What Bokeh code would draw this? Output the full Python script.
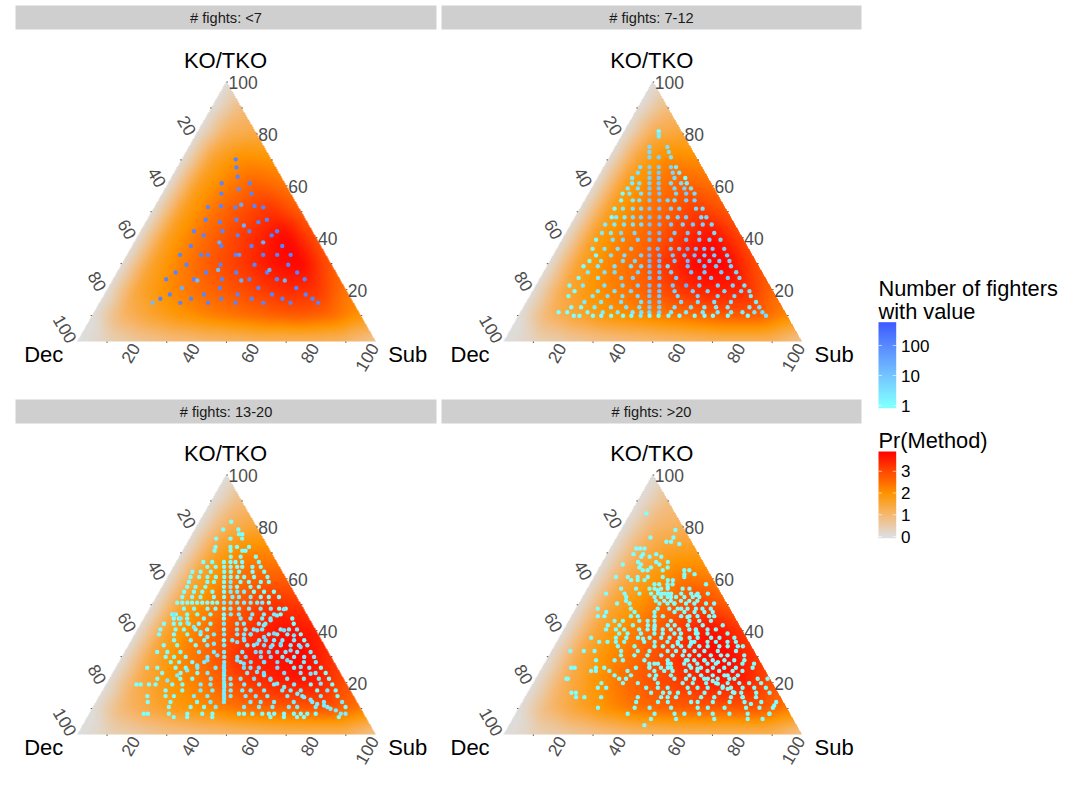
import numpy as np
from bokeh.plotting import figure
from bokeh.models import Range1d, LinearColorMapper, LogColorMapper
from bokeh.core.properties import value
from bokeh.embed import file_html
from bokeh.resources import INLINE

STRIP_TITLES = ["# fights: <7", "# fights: 7-12", "# fights: 13-20", "# fights: >20"]
TICKS = [20, 40, 60, 80, 100]
MINOR = [10, 30, 50, 70, 90]
COUNT_BREAKS = [1, 10, 100]
PR_BREAKS = [0, 1, 2, 3]

# ---- points: % submission, % KO/TKO, number of fighters ----
P1_SUB = [18,19.8,22,17.9,27.3,24.8,19.8,29.9,17.9,22.1,27.2,28.6,33.3,36.5,19.6,24.8,29.9,33.5,37.7,40.1,17.9,21.9,27.4,33.3,36.4,45.7,44.7,19.7,28.5,29.9,40,43.2,50.3,17.8,24.8,27.1,36.4,37.6,45.6,50.3,54.8,21.8,33.2,44.6,55.9,19.7,29.9,33.4,40,50.3,50.6,60.4,17.8,27.1,28.5,36.5,43.2,45.7,54.9,57.8,64.2,24.8,37.5,50.4,63.1,22,33.4,44.7,56.2,67.5,19.6,29.9,40,50.2,60.5,70.6,17.8,27.1,36.4,45.6,54.9,64,73.3]
P1_KO = [70.2,67.1,63.5,61,61,58.7,57,57,51.8,52.2,51.7,52.7,52.2,51.7,46.9,46,46.9,44.7,46,46.9,42.5,40.9,42.5,40.9,42.5,42.5,40.9,36.8,38.2,36.8,36.8,38.2,36.8,33.4,33.4,33.4,33.4,33.4,33.4,33.4,33.4,29.6,29.6,29.6,29.6,26.6,26.6,27.6,26.6,26.6,27.6,26.6,24,24,23.5,24,23.5,24,24,23.5,24,20.6,20.6,20.6,20.6,18.1,18.1,18.1,18.1,18.1,16.5,16.5,16.5,16.5,16.5,16.5,14.9,14.9,14.9,14.9,14.9,14.9,14.9]
P1_N = [130,130,130,130,130,90,130,130,130,130,130,30,130,130,130,130,130,25,130,130,130,130,130,130,130,130,150,130,25,130,130,25,130,130,130,130,130,60,130,130,130,130,130,130,130,130,130,15,130,130,25,130,130,130,15,130,25,130,130,20,130,25,130,130,130,130,130,130,130,130,130,130,130,130,130,130,15,130,130,130,130,130,130]

P2_KO = [81,80,79,75,73,71,67.2,65,63,61,59,57,54.4,51.2,47.9,45.1,41.8,39.2,35.7,33.2,31,29,26.7,24.5,21.6,19.4,17.5,15.2,13.2,11.3,9.9]
P2_SUB = [[11.5],[12],[12.5],[11.4,17.4],[12.4,18.9],[13.4,16.5,20.6],[12.2,15.3,18.4,22.5,24.2],[12.5,16.4,19.5,24.2,26.4],[11.6,17.4,20.5,29.4,25.8],[12.6,15,18.4,21.5,25.6,29,30.9],[12.1,15.5,19.4,22.5,27.8,31.1,33.3],[11.4,13.7,17.6,20.4,23.7,29.3,32.7,35.5],[12.2,16.1,18.3,21.7,25,27.8,30.1,34,36.8],[11.6,14.4,17.7,20.5,23.3,26.6,30.5,33.3,38.9,41.1],[12.3,13.8,16.6,19.4,22.1,25,28.3,31.1,34.4,37.2,42.3,44],[11.5,14.6,17.8,20.8,23.6,26.4,29.7,33.6,37.5,40.9,44.2,47.2],[12.1,15.1,18.5,23,28,31.3,36.4,40.8,44.7,49.7],[11.4,17,20.4,25.4,29.3,32.6,36.5,41.6,46,49.4,53.1],[12,16,20.4,24.9,31,33.8,38.2,41,43.8,46.6,49.4,52.2,56.1],[14.4,19.4,23.9,29.5,32.3,35.6,40.1,44,47.4,50.7,54,58.3],[13.3,17.2,24.5,28.5,33.4,36.7,41.8,46.2,50.1,53.5,56.8,60.2],[12.3,17.1,22.7,28.2,31.6,34.4,37.7,40.5,47.2,52.8,56.7,61.7],[14.9,20.5,23.9,31.7,35.6,38.9,42.8,49.5,54,59.6,64.6],[12.9,19.4,27.2,31.1,36.7,40,45.6,53.4,57.3,62.9,66.8],[11.3,15.8,23,29.1,34.2,38.1,41.4,45.9,50.4,54.8,61,66,69.9],[14.1,21.9,27.5,33,39.2,42.5,47.6,53.7,58.7,64.3,69.9,72.7],[13,21.1,26.1,31.1,36.2,40.1,43.4,49.6,56.3,63,68.6,74.1],[19.5,25.1,31.8,38.5,41.3,44.6,51.9,57.5,63,68.6,77],[16.1,19.4,23.9,29.4,34.5,38.9,42.3,45.6,50.7,56.2,60.7,64.6,68.5,75.8,79.1],[12.8,15.7,22.5,27.6,32.6,37.6,40.5,43.2,46.5,50.5,55.5,61.1,66.1,70.6,74.4,78.4,81.1],[18.6,20.5,25,27.8,31.1,35.1,37.9,41,44,47,50.3,54,59.1,62.4,65.2,70.2,76.9,83]]
P2_N = [[1],[2],[2],[4,3],[4,3],[5,6,3],[3,6,6,5,2],[3,6,8,5,2],[2,6,8,1,4],[2,3,6,8,4,4,2],[2,3,8,10,5,6,3],[1,2,3,8,10,5,8,4],[1,2,3,8,10,5,4,6,6],[1,2,3,4,10,12,6,6,4,3],[1,2,2,4,5,12,14,5,6,7,4,5],[2,2,3,3,4,12,14,8,5,9,6,4],[2,2,4,5,15,14,7,10,6,4],[1,3,4,5,14,15,8,12,8,6,5],[1,2,3,4,15,15,10,8,20,12,10,8,6],[1,3,4,6,18,18,10,15,12,10,8,6],[1,2,4,5,18,16,10,15,12,10,8,6],[1,2,3,3,5,15,15,4,14,12,8,5],[2,3,4,6,14,14,6,12,10,8,5],[1,2,4,6,12,12,8,10,8,7,4],[1,2,3,4,6,12,12,8,25,8,6,5,3],[1,2,3,4,10,10,6,6,5,5,4,3],[1,2,3,3,4,10,10,4,5,4,4,2],[2,2,3,3,8,8,4,3,3,3,2],[1,1,2,2,3,3,6,6,3,3,2,2,2,2,3],[1,1,1,2,2,2,3,5,5,2,2,2,2,2,2,3,4],[1,1,1,1,1,1,1,2,1,1,1,1,1,1,1,1,1,3]]

P3_KO = [82,79,77.2,75.5,72.3,70.8,68.5,66.5,64.6,62.7,60.7,58.8,56.9,55,53,50.8,48.5,46.3,44.7,42.7,40.5,38.6,36.3,34.4,31.8,29.9,27.9,25.7,23.7,21.5,19.3,17,14.8,12.5,10.6,8,6.7]
P3_SUB = [[10.6],[9.4,14.5],[15.6,16.7],[8.8,13.6,17.5],[10.2,15.2,17.4,21.4],[10.6,16,19.9,21],[17.2,20.5,25.6],[9,12,15.9,18.1,19.8,22,27.6],[11.3,14.1,16.9,19.1,21.3,23,26.4,29.2],[7.2,10,13.4,17.9,20.1,22.9,27.4,31.3],[7.6,10.5,13.3,16.1,18.9,21.1,23.3,25.6,28.9,33.4],[8,14.2,16.4,19.8,22,25.3,28.1,32.1,34.8],[8.4,11.2,14.5,20.7,22.9,25.1,29.6,32.4],[8.3,11.6,14.4,17.8,21.7,23.9,26.1,28.4,31.7,35.1,38.4],[8.7,12,14.8,19.3,22.7,25.5,27.7,31.6,35,37.7,41.1],[8.1,9.8,11.5,13.1,14.8,16.5,18.2,19.9,21.5,23.8,26,28.2,30.5,32.7,34.9,36.6,38.8],[11.5,14.9,19.4,22.1,24.9,27.1,30,33.3,37.2,40.6,43.4,45.6],[8.7,9.9,13.7,17.1,21.5,26,28.3,31,35.5,39.4,42.8,45],[10,11.7,14.5,20.1,26.8,32.4,35.7,39.6,42.4,49.7],[7.7,11,13.2,16,19.4,23.3,27.8,32.2,34.5,39.5,41.7,51.2],[7.6,12.7,15.5,19.4,23.3,28.9,33.3,36.1,38.9,41.7,47.9,50.7,53.4],[8.1,13.1,17.6,22,26.5,29.9,34.3,36.6,38.8,44.9,47.7,51.1,55.6],[14.3,19.9,24.4,31,33.8,37.8,42.8,45,47.8,50.6,54.5,57.9],[11.8,16.3,22.5,26.4,32,39.8,42,45.4,48.2,51,54.3,57.1,59.9],[10.9,14.3,18.7,24.9,29.9,33.3,39.4,43.9,48.3,51.1,53.9,57.8,62.3],[14.7,17.5,21.4,28.7,34.3,38.7,41.5,46.6,49.9,53.8,57.7,61.1,64.4],[17.4,20.2,24.6,28.6,35.3,40.8,44.2,48.7,53.1,57.6,62,66],[10.6,14,20.1,23.5,27.4,33.5,36.3,43,48,54.2,59.8,64.9,68.8],[16.6,22.8,28.4,31.8,37.3,45.1,50.7,57.5,63,68,71.4],[16.1,23.8,27.8,34,38.4,40.6,44,48.5,54,59.6,65.2,70.2,73.6],[10.2,11.6,14.4,16.6,22.2,25.6,31.7,35,39.6,41.8,46.3,51.3,56.3,63,68.6,75.8],[21.1,26.7,32.8,36.8,40.7,42.9,46.8,49.6,54.1,60.2,66.4,71.9,78.1],[16.1,22.2,25,31.7,36.2,41.8,44,49,52.4,56.3,63,68,74.2,79.8],[17.4,25,33.9,38.4,42.9,51.8,55.2,59.7,66.3,72.5,76.4,82.5],[25.4,32.7,37.2,41.1,50.6,55.6,60.1,65.6,68.4,74.6,78.5,84.6],[18.3,19.7,26.7,32.9,37.9,41.3,50.2,51.9,54.7,58,60.2,62,65.3,68.6,70.9,73.1,75.9,85.9],[29,33.5,41.9,61.4,65.9,70.3,72.6,84.3]]
P3_N = ["1","11","11","111","1111","1111","111","1111111","11111111","1111111111","1111111111","111121111","11112111","11111222111","11111222111","11111111122222221","111112222211","111111222221","1111122221","111111222221","1111112222222","1111222222221","111122242221","1112222422222","1112222444222","1112224442222","111222444222","1111222444221","11122244221","1112222442221","1111112222222211","1122222222211","11122222222221","111222222222","111222222221","111111111111111112","11111111"]
# dense rays seen in the 13-20 panel
P3X_SUB = [35.8,37.4,38.8,40.2,41.5,42.8,44,45.1,39.3,45.2,51.2,57.2,63,68.8,74.5,79.9,84.3,42.2,48.2,54.2,60.2,65.9,71.5,77.1,82,9.3,12.3,15.4,18.4,21.6,24.8,28.3,31.7,29.3,26.9,24.5,22.1,19.8,35.9,36.9,37.8,39.1,40.1,41.3,42.3,42.8,43.8,46.5,49.2,53.5,45.6,48,50.7,55.3,58,48.6,56.1,61.9,66.5,71.8,75.3]
P3X_KO = [35.6,36.9,38.6,40.2,42.1,44,45.9,48.3,28.6,25.7,22.8,19.6,17,14.4,11.8,9.9,8,27.3,24.1,21.1,18.3,15.7,13.4,11.2,9.3,46.2,44.7,43,41.4,39.5,37.6,35,30.5,28.6,26.6,24.7,22.8,20.8,26.6,24.7,22.8,20.2,18.3,15.7,13.8,35,37.6,38.9,40.2,38.2,31.8,33.7,35,32.4,33.7,27.9,28.6,26,23.4,19.6,17]
P3X_N = [3,3,3,3,2,2,2,2,3,3,3,2,2,2,2,2,2,3,3,3,2,2,2,2,2,2,2,2,2,2,2,2,3,3,2,2,2,2,3,3,2,2,2,2,2,4,4,4,4,3,4,4,4,4,3,4,4,3,3,2,2]

P4_KO = [85.2,78.8,75.9,74.3,73.4,71.7,69.5,68.5,66.5,65.5,64.4,63.3,61.8,60.7,59.5,57.9,56.2,54.3,53,51.5,50.5,48.5,47.2,45.6,43.8,42.1,40.5,38.9,37.3,35.7,34,32.2,30.5,28.6,27.3,25.7,24.5,22.8,21.5,19.8,18,16.1,14.4,12.5,10.3,8,6,3.6]
P4_SUB = [[5.3],[18.2],[11.3,19],[17.4,19],[22.2],[9.9,11.4,8.6],[8.8,12,16.4],[11.9,14.7,18.6],[11.8,17.9,21.8],[7.2,13.3,19.5],[22.8,13.3,17.2],[15,16.6,21.7,28.9,30.6],[29.7,33.1],[7.3,11.3,14.6,18,23,30.2],[13,15.2,17.5,25.3,27],[21.6,23.2,26,27.7,38.9],[11.3,16.3,20.8,22.5,24.7,26.9,31.9,34.2],[7.2,13.4,18.4,22.3,24.6,26.8,29,32.4,35.7,37.9,41.3],[14.6,24.1,26.3,28.5,31.3,34.1,36.9,39.1],[15.3,25.3,28.1,30.3,33.7,36.5,39.2],[12.8,17,27,29.7,32,35.9,38.7,42.6,45.3],[7.3,18.4,27.4,31.3,34.1,37.4,40.2,42.4,45.2],[10.8,20.3,27,33.7,37,40.4,43.7,46.5],[8.8,11,19.9,22.2,27.8,30.6,36.7,39.5,42.2,46.1,47.8],[15.3,18.1,23.6,26.4,28.7,34.2,40.4,43.7,47.6],[13.9,17.8,22.3,27.3,29.6,34,36.3,40.7,45.7,52.4],[14.1,17.4,20.2,25.2,28,30.3,33.1,35.8,38.6,42,44.2,48.1,50.9],[19.3,22.1,26.6,31.1,33.9,37.8,40,45,48.9,55.6],[10.7,19,22.5,26.4,30.3,34.2,37,40.3,43.7,46.4,50.9,53.7,58.7],[14.2,17,19.8,22.6,29.3,32.8,37.1,40.5,45,46.1,50.5,53.3,57.2,60],[21.3,26.9,33.6,36.4,39.7,42.5,45.3,48.6,51.4,55.3,58.1,61.5,63.2],[6.3,10.8,14.4,23.3,28.9,32.8,38.9,41.7,44.5,47.9,51.2,55.7,61.8],[24.1,28.6,33,37.6,41.4,44.8,47,50.3,54.2,57.6,59.8,65.4],[16.7,22.9,25.7,32.9,40.7,46.8,49.6,53,55.8,59.7,63,66.4],[35.2,36.9,42.4,46.9,51.3,54.7,57.5,61.9,66.4,70.3],[9.8,11,18.1,20.9,31.5,36,39.9,42.2,50,53.3,57.3,61.1,65,70.6],[17.1,18.7,23.2,29.3,38.3,41.6,44.4,48.8,52.7,56.1,60,64.5,67.8],[25.8,31.3,37.5,39.7,44.7,50.9,54.8,58.7,62.6,67.1],[10.8,10.3,28,30.3,39.9,46.5,50.4,53.1,56.5,61,64.9,74.4,77.7],[22.9,30.1,35.1,41.8,50.1,53.5,58,61.3,65.2,69.1,72.4,76.4],[22.6,25.4,38.8,42.7,46,52.7,56,59.4,64.4,67.2,71.1,75,78.9],[14.7,16.2,41.4,45.4,47.6,50.4,54.3,59.3,64.3,69.3,71.6,76.6,81.1],[17.1,19.9,25.5,37.8,45.6,47.8,50.6,59,63.4,69,72.9,77.4],[38.2,45.5,48.8,56.6,58.8,63.9,69.5,74.5,80.1,85.1],[26.5,38.8,43.8,51,59.9,63.3,68.9,76.1,80.6,85.1],[37.6,46.6,53.3,56.6,61.6,66.1,71.7,77.8,85.1],[46.4,54.8,67.6,78.8,83.8],[45.4]]
P4X_SUB = [57.7,59.8,62,64.2,66.3,68.7,47.4,49,52.3,53,57.9,63.7,66.6,41.4,43.3,38.1,35.9,45.3,44.4,45.6,41,40.9,27.9,29.6,26.6,25.7,23.9,32,35.3,39,37.7,29.9,28.3,77,85.1,85.1,72.9]
P4X_KO = [21.5,20.6,19.6,18.5,17.6,16.3,28.6,26.6,25.4,28.6,27.9,22.8,21.5,27.3,25.7,27.3,26,35,40.2,38.9,36.9,35,54.3,53,56.9,54.3,55.6,50.5,48.5,45.3,53.7,41.4,36.9,11.8,8,11.2,14.4]

# ---- Pr(Method) read at a 10 % lattice: rows are KO = 0,10,...,100, columns Sub = 0,10,... ----
P1_PR = [[0,.3,.6,.8,.9,1,1.1,1.1,1.1,1,.6],[0,1.1,1.6,2,2.3,2.5,2.7,2.8,2.6,2],[0,1.5,2.1,2.5,2.8,3.1,3.4,3.3,2.4],[0,1.6,2.3,2.8,3.2,3.7,3.9,2.8],[0,1.7,2.4,2.9,3.4,3.9,2.9],[0,1.7,2.4,2.9,3.3,2.7],[0,1.7,2.3,2.7,2.4],[0,1.6,2.1,2],[0,1.2,1.4],[0,.9],[0]]
P2_PR = [[0,.3,.5,.7,.8,.9,1,1.1,1.1,1.1,.6],[0,1.1,1.6,2,2.2,2.4,2.6,2.8,2.8,2.2],[0,1.4,2,2.4,2.8,3.3,3.6,3.5,2.6],[0,1.6,2.2,2.6,3.3,3.9,3.9,2.9],[0,1.7,2.3,2.7,3.3,3.8,3],[0,1.7,2.3,2.7,3.2,2.8],[0,1.7,2.3,2.7,2.5],[0,1.6,2.2,2.1],[0,1.3,1.5],[0,.9],[0]]
P3_PR = [[0,.3,.5,.7,.8,.9,1,1.1,1.1,1.1,.6],[0,1,1.5,1.9,2.2,2.5,2.7,2.8,2.9,2.4],[0,1.3,1.9,2.3,2.8,3.3,3.6,3.6,2.9],[0,1.5,2.2,2.7,3.4,3.7,3.9,3.3],[0,1.6,2.3,2.8,3.4,3.8,3.5],[0,1.6,2.3,2.8,3.3,3.2],[0,1.6,2.3,2.7,2.7],[0,1.5,2.2,2.2],[0,1.2,1.5],[0,.9],[0]]
P4_PR = [[0,.3,.5,.7,.9,1,1.1,1.1,1.1,1.1,.6],[0,1,1.6,2.1,2.5,2.7,2.8,2.8,2.9,2.4],[0,1.2,1.9,2.5,2.9,3.2,3.6,3.6,2.9],[0,1.4,2.1,2.6,3.1,3.7,3.9,3.2],[0,1.4,2.1,2.7,3.2,3.8,3.2],[0,1.4,2,2.6,3.1,2.7],[0,1.3,1.9,2.4,2.3],[0,1.2,1.7,1.8],[0,1,1.2],[0,.8],[0]]

# ---- layout helpers (page pixels) ----
FIG_W, FIG_H = 1072, 784
TRI_W, TRI_H = 298.5, 259.5
PANEL_LEFT = [76.7, 503.0, 76.7, 503.0]
PANEL_BASE = [341.0, 341.0, 734.0, 734.0]
PANEL_STRIP = [(15, 436, 5, 29), (441, 861, 5, 29), (15, 436, 399, 423), (441, 861, 399, 423)]
FONT = value("Liberation Sans")


def yy(v):
    return FIG_H - np.asarray(v, dtype=float)


def lerp_palette(stops, n=256):
    xs = np.array([s[0] for s in stops], dtype=float)
    rgb = np.array([[int(s[1][i:i + 2], 16) for i in (1, 3, 5)] for s in stops], dtype=float)
    t = np.linspace(xs[0], xs[-1], n)
    ch = [np.interp(t, xs, rgb[:, i]) for i in range(3)]
    return ["#%02x%02x%02x" % (int(a), int(b), int(c)) for a, b, c in zip(*ch)]


pr_mapper = LinearColorMapper(palette=lerp_palette([(0, "#DEDEDE"), (1, "#F6B871"), (2, "#FF9500"), (3.95, "#FF0000")]), low=0, high=3.95, nan_color="rgba(0,0,0,0)")
count_mapper = LogColorMapper(palette=lerp_palette([(0, "#80FFFF"), (1, "#75C5FF"), (2, "#5A8CFF"), (2.8, "#3E5CFF")]), low=1, high=630)


def field(table):
    V = np.zeros((12, 12))
    for j, row in enumerate(table):
        V[j, :len(row)] = row
    nx, ny = int(round(TRI_W)), int(round(TRI_H))
    gx, gy = np.meshgrid((np.arange(nx) + .5) / nx * 100, (np.arange(ny) + .5) / ny * 100)
    ko = gy
    sub = gx - ko / 2
    inside = (sub >= 0) & (sub + ko <= 100)
    s = np.clip(sub, 0, 100 - ko)
    a, b = s / 10, ko / 10
    i, j = np.clip(np.floor(a).astype(int), 0, 10), np.clip(np.floor(b).astype(int), 0, 9)
    fa, fb = a - i, b - j
    low = V[j, i] * (1 - fa - fb) + V[j, i + 1] * fa + V[j + 1, i] * fb
    upp = V[j + 1, i + 1] * (fa + fb - 1) + V[j + 1, i] * (1 - fa) + V[j, i + 1] * (1 - fb)
    v = np.where(fa + fb <= 1, low, upp)
    k = np.ones(11) / 11
    for _ in range(2):
        v = np.apply_along_axis(lambda r: np.convolve(np.pad(r, 5, mode="edge"), k, "valid"), 1, v)
        v = np.apply_along_axis(lambda r: np.convolve(np.pad(r, 5, mode="edge"), k, "valid"), 0, v)
    v[~inside] = np.nan
    return v


p = figure(width=FIG_W, height=FIG_H, output_backend="svg", toolbar_location=None,
           x_range=Range1d(0, FIG_W), y_range=Range1d(0, FIG_H), min_border=0,
           outline_line_color=None, background_fill_color="white")
p.axis.visible = False
p.grid.visible = False


def flat(kos, subs, ns):
    ko, sub, n = [], [], []
    for k, ss, nn in zip(kos, subs, ns):
        if isinstance(nn, str):
            nn = [int(c) for c in nn.ljust(len(ss), "1")]
        if isinstance(nn, int):
            nn = [nn] * len(ss)
        for a, b in zip(ss, nn):
            ko.append(k); sub.append(a); n.append(b)
    return np.array(sub), np.array(ko), np.array(n, dtype=float)


s3, k3, n3 = flat(P3_KO, P3_SUB, P3_N)
s4, k4, n4 = flat(P4_KO, P4_SUB, [1] * len(P4_KO))
PANELS = [
    (P1_PR, np.array(P1_SUB), np.array(P1_KO), np.array(P1_N, dtype=float)),
    (P2_PR,) + flat(P2_KO, P2_SUB, P2_N),
    (P3_PR, np.concatenate([s3, P3X_SUB]), np.concatenate([k3, P3X_KO]), np.concatenate([n3, P3X_N])),
    (P4_PR, np.concatenate([s4, P4X_SUB]), np.concatenate([k4, P4X_KO]), np.concatenate([n4, np.ones(len(P4X_KO))])),
]

for idx, (table, sub, ko, n) in enumerate(PANELS):
    L, B = PANEL_LEFT[idx], PANEL_BASE[idx]
    x0, x1, y0, y1 = PANEL_STRIP[idx]
    p.quad(left=[x0], right=[x1], top=yy([y0]), bottom=yy([y1]), fill_color="#CFCFCF", line_color=None)
    p.text(x=[(x0 + x1) / 2], y=yy([(y0 + y1) / 2 + .5]), text=[STRIP_TITLES[idx]], text_font=FONT,
           text_font_size="14.6px", text_color="#1A1A1A", text_align="center", text_baseline="middle")
    p.image(image=[field(table)], x=L, y=FIG_H - B, dw=TRI_W, dh=TRI_H, color_mapper=pr_mapper)

    px = L + (sub + ko / 2) / 100 * TRI_W
    py = B - ko / 100 * TRI_H
    p.scatter(x=px, y=yy(py), size=4.4, marker="circle", line_color=None,
              fill_color=[count_mapper.palette[int(np.clip(np.log(v) / np.log(630) * 255, 0, 255))] for v in n])

    tk = np.array(TICKS, dtype=float)
    mk = np.array(MINOR, dtype=float)
    ex = L + TRI_W * (1 - tk / 200)
    ey = B - tk / 100 * TRI_H
    for v, a, b in zip(TICKS, ex, ey):
        p.text(x=[a + 2], y=yy([b + .5]), text=[str(v)], text_font=FONT, text_font_size="17.5px",
               text_color="#4D4D4D", text_align="left", text_baseline="middle")
    dk = 100 - tk
    lx = L + dk / 200 * TRI_W
    ly = B - dk / 100 * TRI_H
    for v, a, b in zip(TICKS, lx, ly):
        p.text(x=[a - 4.7], y=yy([b]), text=[str(v)], angle=-np.pi / 3, text_font=FONT, text_font_size="17.5px",
               text_color="#4D4D4D", text_align="right", text_baseline="middle")
    bx = L + tk / 100 * TRI_W
    for v, a in zip(TICKS, bx):
        p.text(x=[a - 1.7], y=yy([B + 3]), text=[str(v)], angle=np.pi / 3, text_font=FONT, text_font_size="17.5px",
               text_color="#4D4D4D", text_align="right", text_baseline="middle")
    rk = np.concatenate([mk, tk])
    p.segment(x0=L + TRI_W * (1 - rk / 200), y0=yy(B - rk / 100 * TRI_H), x1=L + TRI_W * (1 - rk / 200) + 1.5,
              y1=yy(B - rk / 100 * TRI_H), line_color="#333333", line_width=.8)
    p.segment(x0=L + mk / 200 * TRI_W, y0=yy(B - mk / 100 * TRI_H), x1=L + mk / 200 * TRI_W - 1.5,
              y1=yy(B - mk / 100 * TRI_H), line_color="#333333", line_width=.8)
    p.segment(x0=L + mk / 100 * TRI_W, y0=yy([B] * 5), x1=L + mk / 100 * TRI_W, y1=yy([B + 1.5] * 5),
              line_color="#333333", line_width=.8)
    p.text(x=[L + TRI_W / 2 - 1], y=yy([B - 281]), text=["KO/TKO"], text_font=FONT, text_font_size="22px",
           text_color="black", text_align="center", text_baseline="middle")
    p.text(x=[L - 53], y=yy([B + 13]), text=["Dec"], text_font=FONT, text_font_size="22px",
           text_color="black", text_align="left", text_baseline="middle")
    p.text(x=[L + TRI_W + 12.5], y=yy([B + 13]), text=["Sub"], text_font=FONT, text_font_size="22px",
           text_color="black", text_align="left", text_baseline="middle")

# ---- legends ----
LX0, LX1 = 878.0, 895.7
p.text(x=[878, 878], y=yy([288, 311]), text=["Number of fighters", "with value"], text_font=FONT, text_font_size="21.8px",
       text_color="black", text_align="left", text_baseline="middle")
cb_top, cb_bot = 321.7, 407.7
cb_val = 10 ** np.linspace(np.log10(0.8), np.log10(630), 86).reshape(-1, 1)
p.image(image=[cb_val], x=LX0, y=FIG_H - cb_bot, dw=LX1 - LX0, dh=cb_bot - cb_top, color_mapper=count_mapper)
for v in COUNT_BREAKS:
    y = 405 - np.log10(v) * 30
    p.segment(x0=[LX0, LX1 - 3.5], x1=[LX0 + 3.5, LX1], y0=yy([y, y]), y1=yy([y, y]), line_color="white", line_width=.6)
    p.text(x=[900.5], y=yy([y + .5]), text=[str(v)], text_font=FONT, text_font_size="17px", text_color="black",
           text_align="left", text_baseline="middle")

p.text(x=[878], y=yy([440]), text=["Pr(Method)"], text_font=FONT, text_font_size="21.8px", text_color="black",
       text_align="left", text_baseline="middle")
fb_top, fb_bot = 451.0, 537.7
fb_val = np.linspace(-0.08, 3.95, 86).reshape(-1, 1)
p.image(image=[fb_val], x=LX0, y=FIG_H - fb_bot, dw=LX1 - LX0, dh=fb_bot - fb_top, color_mapper=pr_mapper)
for v in PR_BREAKS:
    y = 536 - v * 21.75
    p.segment(x0=[LX0, LX1 - 3.5], x1=[LX0 + 3.5, LX1], y0=yy([y, y]), y1=yy([y, y]), line_color="white", line_width=.6)
    p.text(x=[900.5], y=yy([y]), text=[str(v)], text_font=FONT, text_font_size="17px", text_color="black",
           text_align="left", text_baseline="middle")

open("out.html", "w").write(file_html(p, INLINE))
